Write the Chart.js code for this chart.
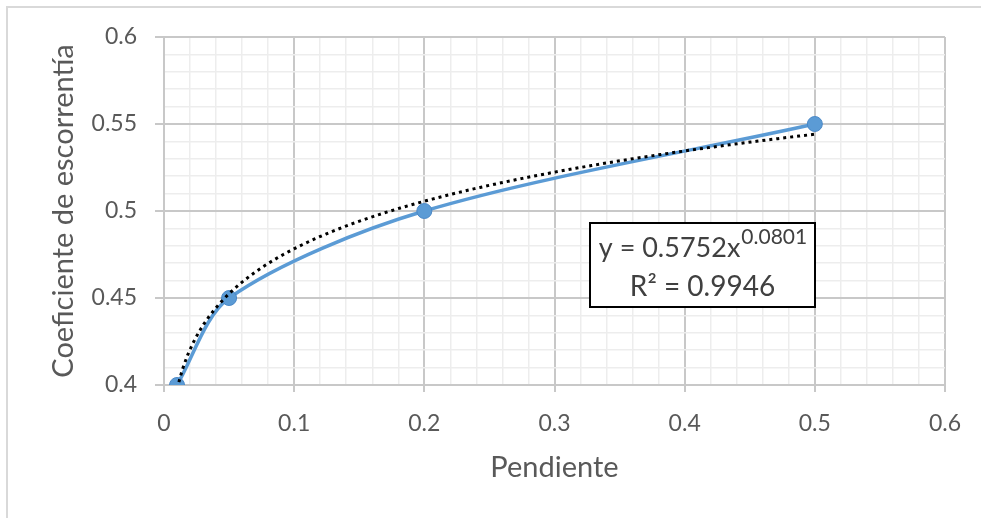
<!DOCTYPE html>
<html>
<head>
<meta charset="utf-8">
<script src="https://cdn.jsdelivr.net/npm/chart.js@4.4.1/dist/chart.umd.min.js"></script>
<style>
  html, body { margin: 0; padding: 0; background: #ffffff; }
  #wrap { width: 981px; height: 518px; position: relative; }
</style>
</head>
<body>
<div id="wrap"><canvas id="c" width="981" height="518"></canvas></div>
<script>
// Runoff coefficient vs. slope
const pendiente = [0.01, 0.05, 0.2, 0.5];
const coeficiente = [0.40, 0.45, 0.50, 0.55];

// Power trendline y = a * x^b and its fit quality
const trendA = 0.5752;
const trendB = 0.0801;
const trendR2 = 0.9946;

const xTickLabels = ['0', '0.1', '0.2', '0.3', '0.4', '0.5', '0.6'];
const yTickLabels = ['0.4', '0.45', '0.5', '0.55', '0.6'];

const xTitle = 'Pendiente';
const yTitle = 'Coeficiente de escorrentía';

// Trendline sampled over the range of the data
const trendPoints = [];
const xFrom = pendiente[0], xTo = pendiente[pendiente.length - 1];
for (let i = 0; i <= 120; i++) {
  const x = xFrom + (xTo - xFrom) * i / 120;
  trendPoints.push({ x: x, y: trendA * Math.pow(x, trendB) });
}

const seriesPoints = pendiente.map((x, i) => ({ x: x, y: coeficiente[i] }));

const FONT = 'Lato, "Open Sans", sans-serif';
const TEXT = '#595959';
const MAJOR = '#c8c8c8';
const MINOR = '#ededed';

function isMajorX(v) { return Math.abs(v * 10 - Math.round(v * 10)) < 1e-6; }
function isMajorY(v) { return Math.abs(v * 20 - Math.round(v * 20)) < 1e-6; }
function fmt(v, list) {
  const s = String(Math.round(v * 100) / 100);
  return list.includes(s) ? s : '';
}

const frame = {
  id: 'frame',
  beforeDraw(chart) {
    const ctx = chart.ctx;
    ctx.save();
    ctx.fillStyle = '#ffffff';
    ctx.fillRect(0, 0, chart.width, chart.height);
    ctx.strokeStyle = '#d9d9d9';
    ctx.lineWidth = 2;
    ctx.strokeRect(7, 7, chart.width + 20, chart.height + 20);
    ctx.restore();
  }
};

// Uniform Catmull-Rom smoothing for the series line (spreadsheet-style smoothed line),
// based on the point positions the scales computed. End segments use a natural end.
const catmullRom = {
  id: 'catmullRom',
  beforeDatasetDraw(chart, args) {
    const meta = args.meta;
    if (!meta.dataset || !meta.dataset.options || !meta.dataset.options.smoothUniform) return;
    const pts = meta.data;
    const n = pts.length;
    if (n < 3) return;
    for (let i = 1; i < n - 1; i++) {
      const tx = (pts[i + 1].x - pts[i - 1].x) / 6;
      const ty = (pts[i + 1].y - pts[i - 1].y) / 6;
      pts[i].cp1x = pts[i].x - tx;
      pts[i].cp1y = pts[i].y - ty;
      pts[i].cp2x = pts[i].x + tx;
      pts[i].cp2y = pts[i].y + ty;
    }
    const a = pts[0], b = pts[1];
    a.cp2x = (a.x + b.cp1x) / 2;
    a.cp2y = (a.y + b.cp1y) / 2;
    a.cp1x = a.x; a.cp1y = a.y;
    const z = pts[n - 1], y = pts[n - 2];
    z.cp1x = (z.x + y.cp2x) / 2;
    z.cp1y = (z.y + y.cp2y) / 2;
    z.cp2x = z.x; z.cp2y = z.y;
    meta.dataset._pointsUpdated = true;
  }
};

const equationBox = {
  id: 'equationBox',
  afterDatasetsDraw(chart) {
    const ctx = chart.ctx;
    const left = 590, top = 223, w = 225, h = 84;
    ctx.save();
    ctx.fillStyle = '#ffffff';
    ctx.fillRect(left, top, w, h);
    ctx.strokeStyle = '#000000';
    ctx.lineWidth = 2;
    ctx.strokeRect(left, top, w, h);

    ctx.fillStyle = '#404040';
    ctx.textBaseline = 'alphabetic';
    const main = 'y = ' + trendA.toFixed(4) + 'x';
    const sup = trendB.toFixed(4);
    ctx.font = '27px ' + FONT;
    const wMain = ctx.measureText(main).width;
    ctx.font = '21px ' + FONT;
    const wSup = ctx.measureText(sup).width;
    const x0 = left + (w - wMain - wSup) / 2;
    ctx.font = '27px ' + FONT;
    ctx.textAlign = 'left';
    ctx.fillText(main, x0, top + 34);
    ctx.font = '21px ' + FONT;
    ctx.fillText(sup, x0 + wMain + 1, top + 21);

    ctx.font = '28px ' + FONT;
    ctx.textAlign = 'center';
    ctx.fillText('R² = ' + trendR2.toFixed(4), left + w / 2, top + 73);
    ctx.restore();
  }
};

new Chart(document.getElementById('c'), {
  type: 'scatter',
  data: {
    datasets: [
      {
        label: 'Tendencia',
        data: trendPoints,
        showLine: true,
        borderColor: '#000000',
        borderWidth: 3,
        borderDash: [3, 4],
        pointRadius: 0,
        pointHoverRadius: 0,
        fill: false,
        order: 0
      },
      {
        label: 'Coeficiente',
        data: seriesPoints,
        showLine: true,
        tension: 0.3,
        smoothUniform: true,
        borderColor: '#5b9bd5',
        borderWidth: 3.5,
        pointRadius: 7.5,
        pointBackgroundColor: '#5b9bd5',
        pointBorderColor: '#4a88c7',
        pointBorderWidth: 1,
        fill: false,
        order: 1
      }
    ]
  },
  options: {
    responsive: false,
    animation: false,
    events: [],
    layout: { padding: { left: 0, top: 37, right: 36, bottom: 0 } },
    plugins: {
      legend: { display: false },
      tooltip: { enabled: false }
    },
    scales: {
      x: {
        type: 'linear',
        min: 0,
        max: 0.6,
        afterFit(scale) { scale.height = 133; },
        border: { color: MAJOR, width: 2 },
        grid: {
          color: c => isMajorX(c.tick.value) ? MAJOR : MINOR,
          lineWidth: c => isMajorX(c.tick.value) ? 2 : 1.5,
          tickColor: c => isMajorX(c.tick.value) ? MAJOR : 'rgba(0,0,0,0)',
          tickLength: 7,
          tickWidth: 2
        },
        ticks: {
          stepSize: 0.02,
          autoSkip: false,
          maxRotation: 0,
          padding: 18,
          color: TEXT,
          font: { family: FONT, size: 23 },
          callback: v => isMajorX(v) ? fmt(v, xTickLabels) : ''
        },
        title: {
          display: true,
          text: xTitle,
          color: TEXT,
          font: { family: FONT, size: 29 },
          padding: { top: 0, bottom: 33 }
        }
      },
      y: {
        type: 'linear',
        min: 0.4,
        max: 0.6,
        afterFit(scale) { scale.width = 164; },
        border: { color: MAJOR, width: 2 },
        grid: {
          color: c => isMajorY(c.tick.value) ? MAJOR : MINOR,
          lineWidth: c => isMajorY(c.tick.value) ? 2 : 1.5,
          tickColor: c => isMajorY(c.tick.value) ? MAJOR : 'rgba(0,0,0,0)',
          tickLength: 9,
          tickWidth: 2
        },
        ticks: {
          stepSize: 0.01,
          autoSkip: false,
          padding: 18,
          color: TEXT,
          font: { family: FONT, size: 23 },
          callback: v => isMajorY(v) ? fmt(v, yTickLabels) : ''
        },
        title: {
          display: true,
          text: yTitle,
          color: TEXT,
          font: { family: FONT, size: 29 },
          padding: { top: 46, bottom: 0 }
        }
      }
    }
  },
  plugins: [frame, catmullRom, equationBox]
});
</script>
</body>
</html>
